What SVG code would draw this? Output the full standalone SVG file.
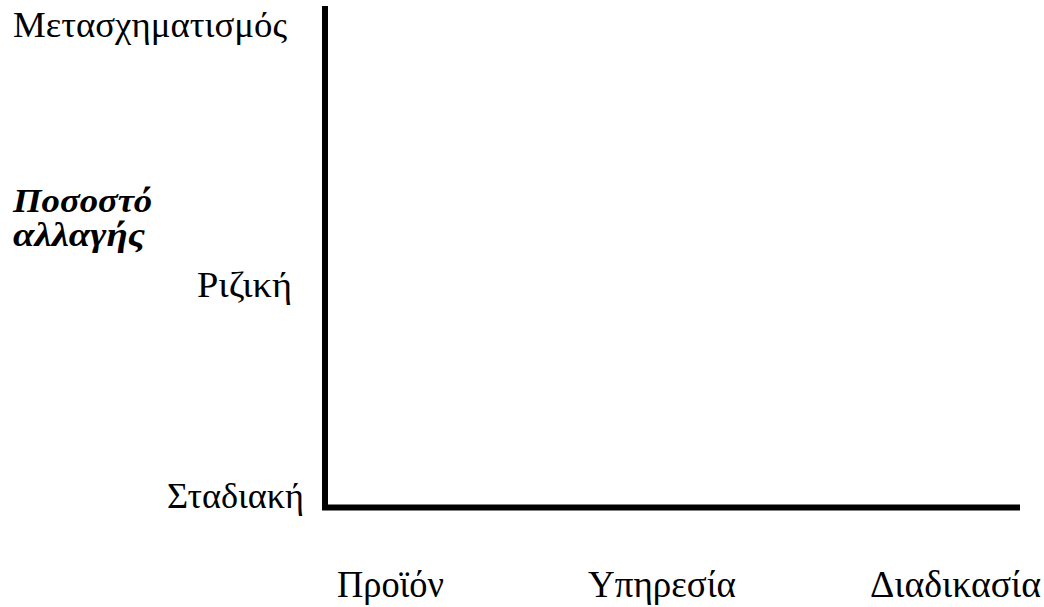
<svg xmlns="http://www.w3.org/2000/svg" width="1044" height="607" viewBox="0 0 1044 607">
<style>
.t{font-family:"Liberation Serif","Times New Roman",serif;font-size:36px;fill:#000}
.x{font-family:"Liberation Serif","Times New Roman",serif;font-size:38px;fill:#000}
.b{font-family:"Liberation Serif","Times New Roman",serif;font-size:34px;font-weight:bold;font-style:italic;fill:#000}
.ax{stroke:#000;stroke-width:6;fill:none}
</style>
<rect width="1044" height="607" fill="#fff"/>
<g id="axes">
<path class="ax" d="M325,6 V507.5 H1020"/>
</g>
<g id="labels">
<text class="t" x="13" y="37" textLength="274" lengthAdjust="spacingAndGlyphs">Μετασχηματισμός</text>
<text class="b" x="13" y="212" textLength="139" lengthAdjust="spacingAndGlyphs">Ποσοστό</text>
<text class="b" x="13" y="246" textLength="132" lengthAdjust="spacingAndGlyphs">αλλαγής</text>
<text class="t" x="197" y="297" textLength="95" lengthAdjust="spacingAndGlyphs">Ριζική</text>
<text class="t" x="167" y="508" textLength="137" lengthAdjust="spacingAndGlyphs">Σταδιακή</text>
<text class="x" x="337" y="597" textLength="107" lengthAdjust="spacingAndGlyphs">Προϊόν</text>
<text class="x" x="588" y="597" textLength="148" lengthAdjust="spacingAndGlyphs">Υπηρεσία</text>
<text class="x" x="870" y="597" textLength="171" lengthAdjust="spacingAndGlyphs">Διαδικασία</text>
</g>
</svg>
